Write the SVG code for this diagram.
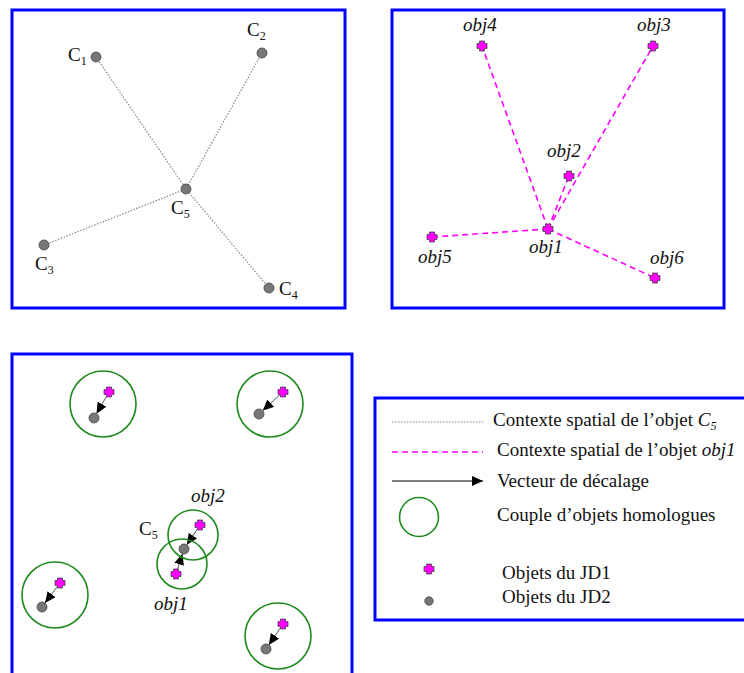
<svg xmlns="http://www.w3.org/2000/svg" width="744" height="673" viewBox="0 0 744 673">
<style>
.frame{fill:#fff;stroke:#0000ff;stroke-width:3}
.dot{fill:#777;stroke:#444;stroke-width:0.8}
.dotted{stroke:#888;stroke-width:1.2;stroke-dasharray:1.5 1.5;fill:none}
.dashed{stroke:#ff00ff;stroke-width:1.6;stroke-dasharray:6 4;fill:none}
.vec{stroke:#555;stroke-width:1;fill:none;marker-end:url(#ah)}
.ring{fill:none;stroke:#1e8a1e;stroke-width:1.6}
.lbl{font-family:"Liberation Serif",serif;font-size:19px;fill:#111}
.it{font-style:italic}
.leg{font-family:"Liberation Serif",serif;font-size:19px;fill:#111}
</style>
<defs>
<path id="cross" d="M-2.5,-5 h5 v2.5 h2.5 v5 h-2.5 v2.5 h-5 v-2.5 h-2.5 v-5 h2.5 z" fill="#ff00ff" stroke="#444" stroke-width="0.8"/>
<marker id="ah" markerUnits="userSpaceOnUse" markerWidth="11" markerHeight="10" refX="11" refY="5" orient="auto">
<path d="M0,0 L11,5 L0,10 z" fill="#000"/>
</marker>
</defs>
<rect width="744" height="673" fill="#fff"/>

<g id="panel1">
<rect class="frame" x="12" y="10" width="333" height="298"/>
<g id="connectors1">
<line class="dotted" x1="96" y1="57" x2="186" y2="189"/>
<line class="dotted" x1="262" y1="53" x2="186" y2="189"/>
<line class="dotted" x1="44" y1="245" x2="186" y2="189"/>
<line class="dotted" x1="269" y1="288" x2="186" y2="189"/>
</g>
<g id="C1"><circle class="dot" cx="96" cy="57" r="5"/><text class="lbl" x="68" y="61">C<tspan font-size="12" dy="4">1</tspan></text></g>
<g id="C2"><circle class="dot" cx="262" cy="53" r="5"/><text class="lbl" x="247" y="36">C<tspan font-size="12" dy="4">2</tspan></text></g>
<g id="C5"><circle class="dot" cx="186" cy="189" r="5"/><text class="lbl" x="171" y="214">C<tspan font-size="12" dy="4">5</tspan></text></g>
<g id="C3"><circle class="dot" cx="44" cy="245" r="5"/><text class="lbl" x="35" y="270">C<tspan font-size="12" dy="4">3</tspan></text></g>
<g id="C4"><circle class="dot" cx="269" cy="288" r="5"/><text class="lbl" x="279" y="295">C<tspan font-size="12" dy="4">4</tspan></text></g>
</g>

<g id="panel2">
<rect class="frame" x="392" y="10" width="332" height="298"/>
<g id="connectors2">
<line class="dashed" x1="548" y1="229" x2="482" y2="46"/>
<line class="dashed" x1="548" y1="229" x2="653" y2="46"/>
<line class="dashed" x1="548" y1="229" x2="569" y2="176"/>
<line class="dashed" x1="548" y1="229" x2="432" y2="237"/>
<line class="dashed" x1="548" y1="229" x2="655" y2="278"/>
</g>
<g id="obj4"><use href="#cross" x="482" y="46"/><text class="lbl it" x="463" y="31">obj4</text></g>
<g id="obj3"><use href="#cross" x="653" y="46"/><text class="lbl it" x="637" y="31">obj3</text></g>
<g id="obj2"><use href="#cross" x="569" y="176"/><text class="lbl it" x="547" y="157">obj2</text></g>
<g id="obj1"><use href="#cross" x="548" y="229"/><text class="lbl it" x="529" y="253">obj1</text></g>
<g id="obj5"><use href="#cross" x="432" y="237"/><text class="lbl it" x="418" y="263">obj5</text></g>
<g id="obj6"><use href="#cross" x="655" y="278"/><text class="lbl it" x="650" y="264">obj6</text></g>
</g>

<g id="panel3">
<rect class="frame" x="12" y="354" width="340" height="330"/>
<g id="connectors3">
<line class="vec" x1="107" y1="395.5" x2="96.5" y2="413.7"/>
<line class="vec" x1="280" y1="394.7" x2="262.7" y2="410.6"/>
<line class="vec" x1="57.6" y1="586.2" x2="45" y2="603"/>
<line class="vec" x1="280.7" y1="627.3" x2="268.8" y2="644.9"/>
<line class="vec" x1="197.8" y1="528.3" x2="186.8" y2="544.8"/>
<line class="vec" x1="177.2" y1="570.2" x2="182.5" y2="553.8"/>
</g>
<g id="pair1"><circle class="ring" cx="103" cy="404" r="33"/><use href="#cross" x="109" y="392"/><circle class="dot" cx="94" cy="418" r="5"/></g>
<g id="pair2"><circle class="ring" cx="270" cy="404" r="33"/><use href="#cross" x="283" y="392"/><circle class="dot" cx="259" cy="414" r="5"/></g>
<g id="pair3"><circle class="ring" cx="55" cy="595" r="33"/><use href="#cross" x="60" y="583"/><circle class="dot" cx="42" cy="607" r="5"/></g>
<g id="pair4"><circle class="ring" cx="278" cy="636" r="33"/><use href="#cross" x="283" y="624"/><circle class="dot" cx="266" cy="649" r="5"/></g>
<g id="pairC5">
<circle class="ring" cx="193" cy="535" r="25"/>
<circle class="ring" cx="182" cy="564" r="25"/>
<use href="#cross" x="200" y="525"/>
<use href="#cross" x="176" y="574"/>
<circle class="dot" cx="184" cy="549" r="5"/>
<text class="lbl it" x="191" y="502">obj2</text>
<text class="lbl" x="139" y="535" fill="#444">C<tspan font-size="12" dy="4">5</tspan></text>
<text class="lbl it" x="154" y="610">obj1</text>
</g>
</g>

<g id="legend">
<rect class="frame" x="375" y="398" width="380" height="222"/>
<line class="dotted" x1="392" y1="422" x2="483" y2="422"/>
<text class="leg" x="493" y="426">Contexte spatial de l’objet <tspan font-style="italic">C</tspan><tspan font-style="italic" font-size="12" dy="4">5</tspan></text>
<line class="dashed" x1="392" y1="452" x2="483" y2="452"/>
<text class="leg" x="497" y="456">Contexte spatial de l’objet <tspan font-style="italic">obj1</tspan></text>
<line x1="392" y1="481" x2="483" y2="481" stroke="#000" stroke-width="1" marker-end="url(#ah)"/>
<text class="leg" x="497" y="487">Vecteur de décalage</text>
<circle class="ring" cx="419" cy="517" r="19.5"/>
<text class="leg" x="497" y="521">Couple d’objets homologues</text>
<use href="#cross" x="429" y="569"/>
<text class="leg" x="502" y="579">Objets du JD1</text>
<circle class="dot" cx="429" cy="601" r="4.2"/>
<text class="leg" x="502" y="603">Objets du JD2</text>
</g>
</svg>
